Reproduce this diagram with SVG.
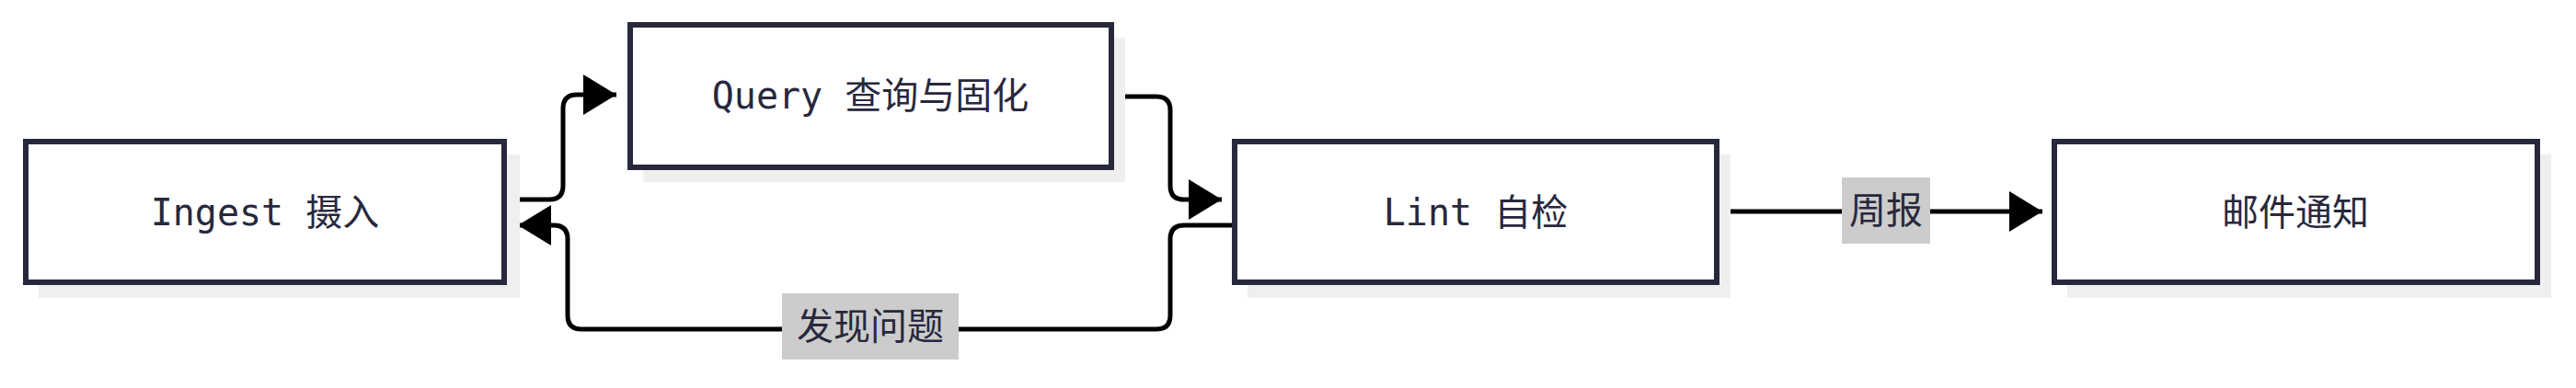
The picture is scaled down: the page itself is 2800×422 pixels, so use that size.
<svg xmlns="http://www.w3.org/2000/svg" width="2800" height="422" viewBox="0 0 2800 422">
<style>
.sh{fill:#efefef}
.box{fill:#fff;stroke:#28283d;stroke-width:6}
.t{font-family:"DejaVu Sans Mono","Noto Sans CJK SC",monospace;font-size:40px;fill:#28283d;text-anchor:middle;dominant-baseline:central}
.c{fill:none;stroke:#000;stroke-width:5}
.lb{fill:#cccccc}
</style>
<defs>
<marker id="ah" markerUnits="userSpaceOnUse" markerWidth="40" markerHeight="46" refX="36" refY="22" orient="auto">
<path d="M0,0 L36,22 L0,44 Z" fill="#000"/>
</marker>
</defs>
<rect x="0" y="0" width="2800" height="422" fill="#fff"/>
<g id="connectors">
<path class="c" d="M548,217 H597 Q612,217 612,202 V118 Q612,103 627,103 H670" marker-end="url(#ah)"/>
<path class="c" d="M1208,105 H1257 Q1272,105 1272,120 V202 Q1272,217 1287,217 H1328" marker-end="url(#ah)"/>
<path class="c" d="M1342,245 H1287 Q1272,245 1272,260 V343 Q1272,358 1257,358 H632 Q617,358 617,343 V260 Q617,245 602,245 H563" marker-end="url(#ah)"/>
<path class="c" d="M1866,230 H2220" marker-end="url(#ah)"/>
<rect class="lb" x="850" y="319" width="192" height="72"/>
<text class="t" x="946" y="355">发现问题</text>
<rect class="lb" x="2002" y="193" width="96" height="72"/>
<text class="t" x="2050" y="229">周报</text>
</g>
<g id="ingest">
<rect class="sh" x="42" y="168" width="523" height="156"/>
<rect class="box" x="28" y="154" width="520" height="153"/>
<text class="t" x="288" y="231">Ingest 摄入</text>
</g>
<g id="query">
<rect class="sh" x="699" y="41" width="524" height="157"/>
<rect class="box" x="685" y="27" width="523" height="155"/>
<text class="t" x="946" y="104">Query 查询与固化</text>
</g>
<g id="lint">
<rect class="sh" x="1356" y="168" width="525" height="156"/>
<rect class="box" x="1342" y="154" width="524" height="153"/>
<text class="t" x="1604" y="231">Lint 自检</text>
</g>
<g id="mail">
<rect class="sh" x="2247" y="168" width="526" height="156"/>
<rect class="box" x="2233" y="154" width="525" height="153"/>
<text class="t" x="2495" y="231">邮件通知</text>
</g>
</svg>
